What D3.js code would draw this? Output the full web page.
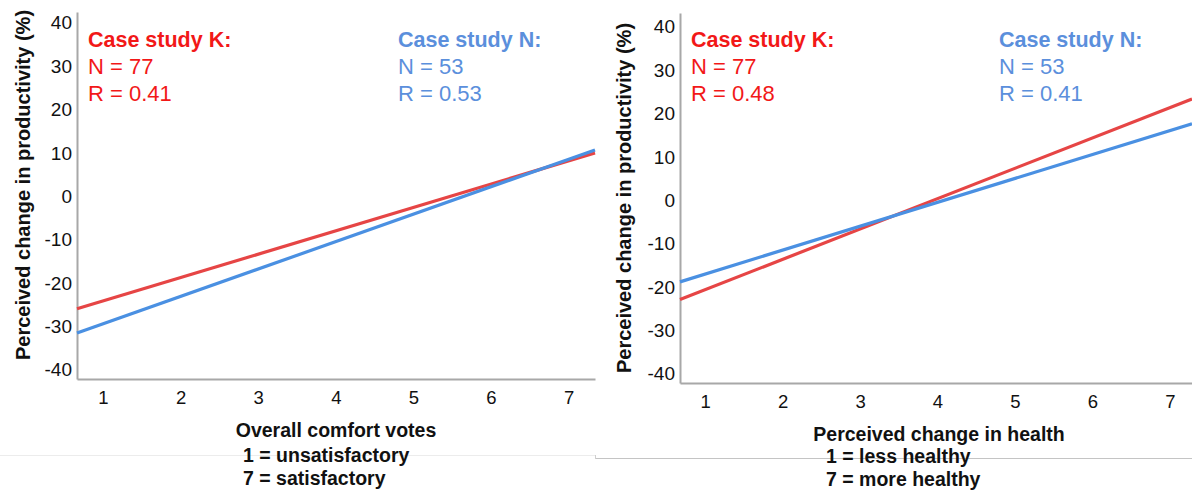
<!DOCTYPE html>
<html>
<head>
<meta charset="utf-8">
<script src="https://cdn.jsdelivr.net/npm/d3@7"></script>
<style>
  html, body { margin: 0; padding: 0; background: #fff; }
  svg { display: block; font-family: Arial, "Liberation Sans", sans-serif; }
</style>
</head>
<body>
<svg id="chart" width="1192" height="490"></svg>
<script>
// Regression lines: fitted productivity change (%) at score 1 and score 7
const xTicks = [1, 2, 3, 4, 5, 6, 7];
const yTicks = [-40, -30, -20, -10, 0, 10, 20, 30, 40];

const comfortK = [-24.1, 8.2];   // case study K, vs overall comfort
const comfortN = [-29.4, 8.55];  // case study N, vs overall comfort
const healthK  = [-20.6, 21.4];  // case study K, vs perceived health
const healthN  = [-17.0, 16.1];  // case study N, vs perceived health

const statsComfort = { K: { n: 77, r: "0.41" }, N: { n: 53, r: "0.53" } };
const statsHealth  = { K: { n: 77, r: "0.48" }, N: { n: 53, r: "0.41" } };

const yTitle = "Perceived change in productivity (%)";
const xTitleComfort = ["Overall comfort votes", "1 = unsatisfactory", "7 = satisfactory"];
const xTitleHealth  = ["Perceived change in health", "1 = less healthy", "7 = more healthy"];

const RED_TEXT = "#f21818", BLUE_TEXT = "#5b8fdc";
const RED_LINE = "#e64545", BLUE_LINE = "#4a90e2";

const svg = d3.select("#chart");

// faint frame lines under each panel
svg.append("line").attr("x1", 0).attr("x2", 595).attr("y1", 455.5).attr("y2", 455.5)
  .attr("stroke", "#ececec").attr("stroke-width", 1);
svg.append("line").attr("x1", 595.5).attr("x2", 595.5).attr("y1", 455).attr("y2", 459)
  .attr("stroke", "#cfcfcf").attr("stroke-width", 1);
svg.append("line").attr("x1", 596).attr("x2", 1192).attr("y1", 458.5).attr("y2", 458.5)
  .attr("stroke", "#c4c4c4").attr("stroke-width", 1);

function panel(cfg) {
  const g = svg.append("g");
  const x = d3.scaleLinear().domain(cfg.xDomain).range([cfg.left, cfg.right]);
  const y = d3.scaleLinear().domain(cfg.yDomain).range([cfg.bottom, cfg.top]);

  // y axis (plain hyphen for negative labels)
  const ya = g.append("g").attr("transform", `translate(${cfg.left},0)`)
    .call(d3.axisLeft(y).tickValues(yTicks).tickSize(0).tickSizeOuter(0).tickPadding(5)
      .tickFormat(d => String(d)));
  ya.select(".domain").attr("stroke", "#a8a8a8").attr("stroke-width", 2);
  ya.selectAll("text").attr("font-size", 19).attr("fill", "#111")
    .attr("font-family", "Arial, 'Liberation Sans', sans-serif");

  // x axis
  const xa = g.append("g").attr("transform", `translate(0,${cfg.bottom})`)
    .call(d3.axisBottom(x).tickValues(xTicks).tickSize(0).tickSizeOuter(0).tickPadding(12)
      .tickFormat(d => String(d)));
  xa.select(".domain").attr("stroke", "#a8a8a8").attr("stroke-width", 2);
  xa.selectAll("text").attr("font-size", 18.5).attr("fill", "#111")
    .attr("font-family", "Arial, 'Liberation Sans', sans-serif");

  // regression lines, extended across the plotted score range
  const lineAt = (vals, s) => vals[0] + (vals[1] - vals[0]) * (s - 1) / 6;
  const line = d3.line().x(d => x(d[0])).y(d => y(d[1]));
  [[cfg.lineK, RED_LINE], [cfg.lineN, BLUE_LINE]].forEach(([vals, col]) => {
    const pts = cfg.xDomain.map(s => [s, lineAt(vals, s)]);
    g.append("path").datum(pts).attr("d", line)
      .attr("fill", "none").attr("stroke", col).attr("stroke-width", 3.2);
  });

  // y title
  g.append("text")
    .attr("transform", `translate(${cfg.yTitleX},${cfg.yTitleY}) rotate(-90)`)
    .attr("text-anchor", "middle").attr("font-size", 20).attr("font-weight", "bold")
    .attr("fill", "#111").text(yTitle);

  // x title block
  g.append("text").attr("x", cfg.xTitleX).attr("y", cfg.titleY[0])
    .attr("text-anchor", "middle").attr("font-weight", "bold").attr("font-size", 19.5)
    .attr("fill", "#111").text(cfg.xTitle[0]);
  [1, 2].forEach(i => {
    g.append("text").attr("x", cfg.subX).attr("y", cfg.titleY[i])
      .attr("font-weight", "bold").attr("font-size", 19.5).attr("fill", "#111")
      .text(cfg.xTitle[i]);
  });

  // case study annotations
  const ann = (xPos, name, st, col) => {
    g.append("text").attr("x", xPos).attr("y", 47).attr("font-size", 21.5)
      .attr("font-weight", "bold").attr("fill", col).text(`Case study ${name}:`);
    g.append("text").attr("x", xPos).attr("y", 74).attr("font-size", 22)
      .attr("fill", col).text(`N = ${st.n}`);
    g.append("text").attr("x", xPos).attr("y", 101).attr("font-size", 22)
      .attr("fill", col).text(`R = ${st.r}`);
  };
  ann(cfg.annK, "K", cfg.stats.K, RED_TEXT);
  ann(cfg.annN, "N", cfg.stats.N, BLUE_TEXT);
}

panel({
  left: 77, right: 595, top: 12, bottom: 379,
  xDomain: [0.665, 7.34], yDomain: [-42.1, 42.5],
  lineK: comfortK, lineN: comfortN, stats: statsComfort,
  yTitleX: 30, yTitleY: 185,
  xTitle: xTitleComfort, xTitleX: 336, titleY: [437, 462, 485], subX: 243,
  annK: 88, annN: 398
});

panel({
  left: 680, right: 1192, top: 13, bottom: 383,
  xDomain: [0.677, 7.284], yDomain: [-42.1, 43.2],
  lineK: healthK, lineN: healthN, stats: statsHealth,
  yTitleX: 631, yTitleY: 198,
  xTitle: xTitleHealth, xTitleX: 939, titleY: [441, 463, 485.5], subX: 826,
  annK: 691, annN: 999
});
</script>
</body>
</html>
